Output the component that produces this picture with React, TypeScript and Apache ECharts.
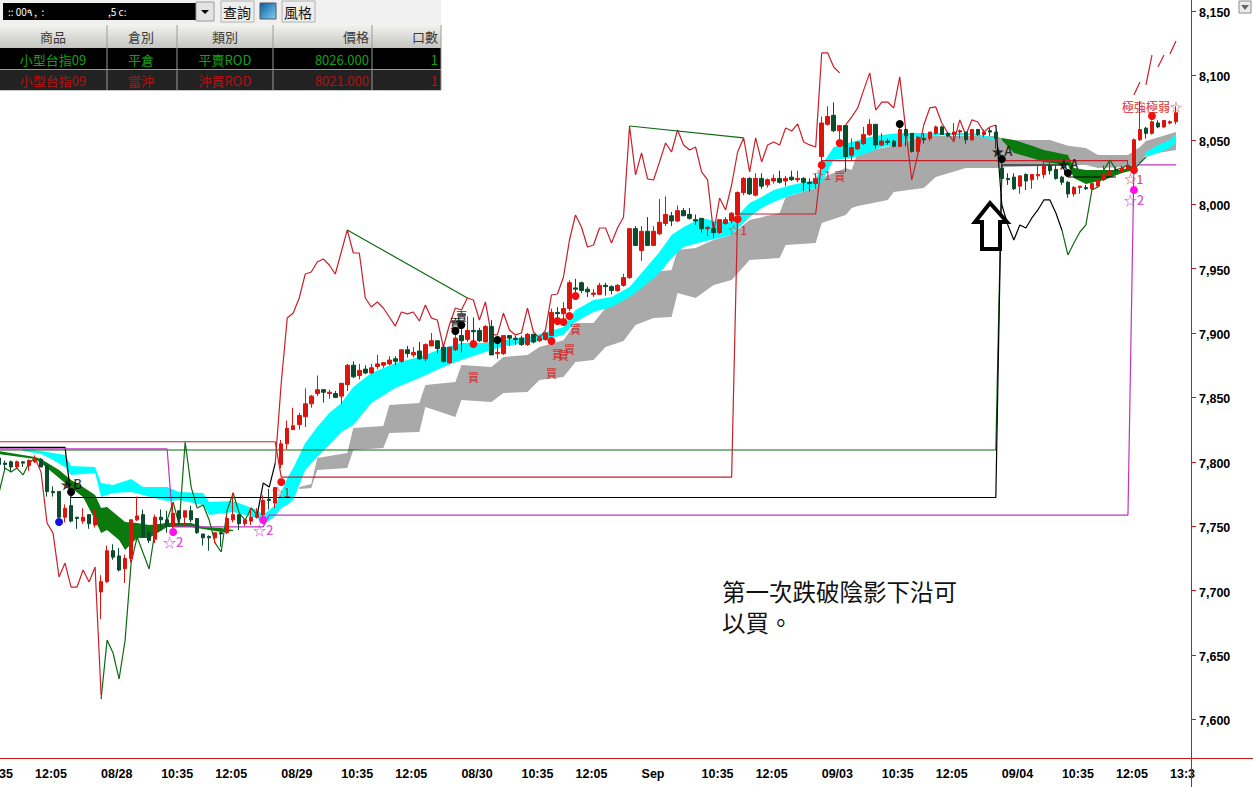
import React, { useEffect, useRef } from "react";
import * as echarts from "echarts";

const CJK = '"Noto Sans CJK TC", "Liberation Sans", sans-serif';
const AXIS_FONT = '"Liberation Sans", Arial, sans-serif';

const BAR_COUNT = 199;
const yTicks = [7600, 7650, 7700, 7750, 7800, 7850, 7900, 7950, 8000, 8050, 8100, 8150];
const timeLabels: [number, string][] = [
  [0, "35"], [6, "12:05"], [27, "10:35"], [36, "12:05"], [57, "10:35"], [66, "12:05"], [87, "10:35"], [96, "12:05"],
  [117, "10:35"], [126, "12:05"], [147, "10:35"], [156, "12:05"], [177, "10:35"], [186, "12:05"], [195, "13:3"],
];
const dayLabels: [number, string][] = [[17, "08/28"], [47, "08/29"], [77, "08/30"], [107, "Sep"], [137, "09/03"], [167, "09/04"]];

// open, close, low, high
const candles: number[][] = [
  [7803,7798,7794,7804],[7799,7798,7794,7801],[7800,7796,7792,7801],[7796,7800,7795,7801],[7800,7799,7796,7800],[7797,7801,7793,7802],
  [7800,7802,7799,7805],[7802,7796,7796,7803],[7797,7777,7773,7799],[7777,7776,7773,7781],[7777,7757,7752,7777],[7757,7764,7753,7767],
  [7766,7754,7753,7773],[7757,7756,7748,7757],[7754,7757,7752,7764],[7759,7752,7748,7759],[7751,7757,7749,7763],[7699,7707,7678,7712],
  [7707,7731,7706,7735],[7731,7726,7724,7736],[7727,7716,7715,7733],[7717,7725,7706,7728],[7725,7755,7722,7755],[7755,7758,7754,7773],
  [7759,7742,7741,7763],[7745,7739,7737,7747],[7740,7757,7737,7759],[7757,7755,7748,7763],[7755,7750,7745,7762],[7750,7760,7748,7768],
  [7762,7756,7751,7762],[7757,7762,7751,7762],[7762,7755,7753,7766],[7756,7745,7744,7756],[7744,7741,7735,7744],[7742,7741,7731,7743],
  [7741,7745,7737,7745],[7745,7744,7734,7746],[7745,7756,7744,7759],[7755,7759,7753,7776],[7759,7752,7747,7759],[7752,7755,7750,7755],
  [7754,7757,7751,7764],[7757,7759,7756,7764],[7759,7770,7752,7774],[7771,7770,7763,7779],[7768,7780,7764,7780],[7798,7814,7795,7817],
  [7814,7826,7810,7832],[7825,7828,7825,7842],[7829,7836,7825,7838],[7835,7845,7827,7857],[7845,7851,7842,7852],[7853,7856,7851,7867],
  [7856,7854,7846,7856],[7853,7854,7849,7856],[7853,7850,7850,7855],[7851,7861,7845,7861],[7860,7875,7855,7876],[7875,7866,7865,7878],
  [7867,7871,7864,7876],[7872,7869,7868,7875],[7869,7873,7868,7876],[7874,7876,7872,7883],[7875,7877,7873,7877],[7876,7879,7875,7882],
  [7880,7878,7875,7882],[7878,7887,7877,7887],[7887,7884,7881,7890],[7883,7885,7881,7889],[7886,7880,7879,7893],[7880,7891,7878,7892],
  [7890,7894,7890,7900],[7894,7888,7884,7894],[7889,7878,7877,7891],[7877,7889,7876,7889],[7887,7896,7886,7901],[7898,7894,7885,7906],
  [7895,7902,7893,7913],[7902,7901,7892,7912],[7902,7894,7893,7904],[7893,7905,7893,7906],[7905,7883,7883,7910],[7884,7885,7880,7895],
  [7884,7898,7883,7898],[7898,7896,7890,7898],[7896,7895,7891,7898],[7896,7891,7890,7898],[7891,7899,7890,7900],[7899,7893,7892,7899],
  [7894,7896,7893,7898],[7895,7900,7894,7901],[7898,7916,7898,7919],[7916,7915,7911,7920],[7915,7919,7908,7924],[7919,7939,7917,7941],
  [7935,7934,7931,7942],[7939,7933,7931,7940],[7934,7932,7928,7936],[7930,7931,7928,7934],[7930,7937,7930,7939],[7937,7936,7929,7939],
  [7936,7933,7930,7937],[7933,7937,7932,7938],[7937,7943,7936,7946],[7943,7981,7942,7981],[7981,7968,7968,7983],[7964,7979,7956,7983],
  [7979,7968,7968,7990],[7968,7979,7968,7983],[7977,7986,7976,8004],[7985,7992,7983,8006],[7991,7987,7983,7994],[7987,7995,7986,7999],
  [7995,7991,7991,7997],[7992,7989,7988,7997],[7988,7987,7984,7992],[7989,7981,7978,7989],[7981,7982,7975,7983],[7981,7978,7974,7986],
  [7978,7988,7977,7988],[7985,7988,7984,7990],[7987,7993,7985,7994],[7992,8009,7990,8010],[8009,8020,8007,8021],[8020,8008,8007,8021],
  [8007,8020,8006,8024],[8020,8014,8012,8024],[8015,8019,8013,8020],[8018,8020,8016,8023],[8020,8017,8016,8026],[8018,8020,8014,8022],
  [8021,8019,8018,8026],[8019,8020,8017,8026],[8020,8017,8010,8021],[8017,8016,8010,8020],[8016,8020,8012,8024],[8037,8063,8031,8068],
  [8062,8068,8061,8076],[8069,8057,8056,8079],[8057,8061,8049,8061],[8061,8037,8025,8061],[8038,8044,8034,8051],[8043,8048,8042,8049],
  [8047,8054,8046,8060],[8054,8062,8053,8066],[8062,8046,8043,8062],[8046,8049,8045,8055],[8049,8048,8046,8051],[8049,8045,8044,8050],
  [8045,8058,8044,8060],[8058,8053,8045,8059],[8055,8041,8040,8055],[8041,8052,8040,8053],[8051,8050,8047,8055],[8051,8056,8049,8056],
  [8055,8060,8054,8061],[8060,8054,8054,8061],[8055,8053,8052,8056],[8054,8056,8050,8063],[8056,8057,8051,8058],[8056,8050,8047,8056],
  [8050,8058,8049,8058],[8058,8054,8053,8058],[8054,8056,8052,8058],[8057,8056,8053,8059],[8056,8051,8043,8056],[8028,8020,8008,8036],
  [8020,8019,8015,8024],[8021,8012,8011,8024],[8014,8022,8008,8022],[8023,8018,8011,8024],[8019,8023,8012,8023],[8022,8023,8019,8030],
  [8023,8030,8020,8036],[8030,8026,8023,8032],[8027,8020,8019,8030],[8021,8017,8015,8022],[8017,8008,8005,8018],[8008,8013,8006,8014],
  [8013,8014,8008,8014],[8013,8012,8011,8015],[8012,8016,8011,8016],[8014,8019,8014,8020],[8019,8023,8018,8030],[8023,8026,8022,8034],
  [8027,8026,8024,8029],[8025,8028,8024,8030],[8027,8030,8027,8034],[8028,8050,8027,8051],[8050,8058,8049,8080],[8059,8055,8051,8060],
  [8055,8064,8054,8065],[8063,8060,8059,8065],[8060,8065,8059,8065],[8063,8064,8062,8065],[8064,8071,8062,8076],
];

// bands: [bar, top, bottom]
const cyanBandA: number[][] = [
  [4,7809.9,7808.4],[7,7808.4,7806],[9,7806.8,7801.4],[11,7805.3,7796],[12,7796.7,7789.8],[16,7796,7791.3],[17,7783.5,7772.7],[19,7782,7775.8],
  [22,7786.7,7776.6],[24,7780.4,7774.2],[28,7780.4,7769.6],[30,7776.6,7770.4],[34,7775.8,7766.5],[35,7768.8,7758.7],[39,7769.6,7761],[43,7762.6,7756.4],
  [44,7758.7,7750.9],[46,7766.5,7758],[47,7776.6,7764.1],[48,7787.4,7766.5],[49,7795.2,7770.4],[51,7814.6,7793.6],[53,7827,7803.7],[55,7837.9,7813],
  [57,7845.6,7823.1],[59,7858,7828.6],[62,7868.9,7845.6],[66,7876.7,7857.4],[70,7881.4,7865],[74,7888.4,7873.6],[77,7892.2,7879],[81,7892.2,7885.2],
  [84,7894.4,7889.9],[89,7897.7,7893],[94,7904.7,7898.5],[96,7917.9,7908.6],[99,7925.6,7916.3],[102,7928,7920.2],[105,7935.7,7928],[107,7946.6,7935],
  [110,7962.9,7946.6],[112,7976.1,7958.2],[114,7982.3,7966.8],[117,7989.3,7970.7],[120,7986.2,7973.8],[122,7986.2,7976.1],[125,8000.9,7990],[127,8005.6,7997],
  [129,8011,8001.7],[132,8014.9,8007.1],[136,8018.8,8012.6],[137,8030.4,8017.2],[139,8044.4,8034.3],[142,8048.3,8035.9],[145,8052.2,8040.5],[147,8053.7,8044.4],
  [150,8055.3,8046],[152,8055.3,8051.4],[157,8055.3,8053.7],[162,8055.3,8053.7],[166,8051.4,8049.9],
];
const cyanBandB: number[][] = [[191,8040.5,8036.6],[193,8046,8039.8],[195,8049.9,8043.6],[196,8054.5,8047.5]];
const grayBand: number[][] = [
  [50,7780.4,7778.9],[52,7782.8,7779.7],[53,7802.9,7793.6],[58,7806.8,7795.2],[59,7826.2,7809.2],[64,7827.8,7810.8],[65,7844.1,7822.4],[70,7845.6,7823.1],
  [71,7859.6,7842.5],[76,7861.9,7834.8],[77,7875.2,7848],[82,7873.6,7846.4],[84,7881.4,7853.4],[88,7882.9,7854.2],[90,7889.1,7863.5],[94,7894.4,7865.8],
  [96,7907.8,7877.5],[99,7907.8,7879],[101,7919.4,7889.1],[104,7925.6,7893.8],[106,7937.3,7906.2],[109,7947.4,7911.6],[112,7948.9,7912.4],[113,7964.4,7931.1],
  [116,7966,7927.2],[119,7972.2,7937.3],[122,7976.1,7941.1],[125,7987.7,7956.7],[130,7993.2,7958.2],[131,8005.6,7968.3],[136,8012.6,7969.9],[137,8020.3,7985.4],
  [141,8028.1,7991.6],[142,8026.6,7997],[143,8040.5,7998.5],[148,8044.4,8003.3],[149,8046,8009.5],[154,8053,8012.6],[156,8053,8021.1],[161,8053,8028.1],
  [166,8053,8028.1],[168,8049.9,8028.9],[175,8049.9,8029.7],[178,8045.3,8030.4],[181,8043.6,8030.4],[183,8038.2,8028.1],[188,8038.2,8028.9],[190,8044.4,8032],
  [191,8049.1,8038.2],[196,8056,8042.1],
];
const greenBandA: number[][] = [
  [0,7808.4,7806],[6,7803.7,7802.2],[7,7802.2,7799.1],[10,7793.6,7787.4],[12,7785.9,7779.7],[14,7780.4,7772.7],[16,7774.2,7754.8],[17,7764.1,7744.7],
  [18,7764.9,7747],[20,7757.2,7739.3],[21,7753.3,7731.5],[23,7752.5,7740.9],[25,7750.9,7740.9],[28,7752.5,7749.4],[32,7752.5,7749.4],[34,7749.4,7747.8],
  [37,7748.6,7745.5],[39,7747,7746.3],
];
const greenBandB: number[][] = [
  [167,8051.4,8049.9],[169,8049.9,8039.8],[172,8045.3,8035.9],[174,8042.1,8032.8],[178,8038.2,8030.4],[179,8028.1,8020.3],[181,8026.6,8015.7],[184,8026.6,8018.8],
  [187,8026.6,8024.3],[189,8030.4,8026.6],
];

// stepped stop levels: [bar, price]
const redStep: number[][] = [[0,7815.6],[46,7815.6],[47,7788.2],[122,7788.2],[123,7992.4],[136,7992.4],[137,8033.8],[188,8033.8]];
const greenStep: number[][] = [[0,7809.2],[166,7809.2],[167,8028]];
const blackStep: number[][] = [[0,7811.2],[11,7811.2],[12,7772.3],[166,7772.3],[167,8030.4],[177,8030.4],[178,8021.1],[186,8021.1]];
const magentaStep: number[][] = [[0,7810],[28,7810],[29,7749.5],[44,7749.5],[45,7758.7],[188,7758.7],[189,8030.5],[196,8030.5]];

// lagging close line, one array per colour run: first bar, then its values
const lagGreen1 = [7776,7795.2,7792.1,7795.2,7789.8,7799.1,7803];
const lagRed1 = [7803,7792,7752.5,7744.7,7710.6,7721.4,7702.8,7702.8,7716,7706.7,7718.3,7619];
const lagGreen2 = [7615.8,7661.6,7651.6,7631.4,7661.6,7721.4,7741.6,7729.2,7716.8,7747,7747,7754.8,7768.8,7750.9,7815.4,7780.4,7764.1,7766.5,7754.8,7736.9,7730,7762.6,7775.8,7760.2,7754.8,7764.1,7758.7];
const lagBlack1 = [7758.7,7783.5,7780.4,7799];
const lagRed2 = [
  7799,7861.2,7911.6,7915.5,7927.2,7945.8,7947.4,7955.1,7957.5,7952.8,7945.8,7962.9,7980,7962.1,7962.1,7927.2,7920.2,7924.1,7919.4,7912.4,7905.4,
  7916.3,7914.8,7916.3,7909.3,7921.7,7911.6,7910.1,7889.1,7906.2,7919.4,7917.9,7927.2,7925.6,7910.1,7924.1,7898.5,7898.5,7915.5,7902.3,7898.5,7900,
  7919.4,7900.8,7896.1,7902.3,7929.5,7930.3,7943.5,7972.2,7991.6,7982.3,7966.8,7968.3,7981.5,7981.5,7969.9,7981.5,7990,8060.7,8022.7,8039.8,8019.6,
  8018.8,8032.8,8047.5,8040.5,8057.6,8046,8042.1,8044.4,8025,8018.8,7977.6,8004.8,7995.5,8014.9,8040.5,8051.4,8025,8051.4,8032.8,8046,8048.3,8046,
  8059.2,8056.8,8062.3,8048.3,8046,8044.4,8117.4,8117.4,8106.5,8101.9,
];
const lagRed3 = [8061.5,8067.7,8074.7,8088.7,8101.9,8073.1,8079.3,8079.3,8074.7,8098.8,8057.6,8018.8,8038.2,8061.5,8074.7,8075.5,8063,8055.3,8048.3,8065.4,8053.7,8065.4,8063.8,8056.1,8059.9,8061.5];
const lagBlack2 = [8061.5,7999.4,7983.9,7972.2,7983.9,7981.5,7989.3,7995.5,8003.3,8003.3,7993.2,7980];
const lagGreen3 = [7980,7960.6,7969.9,7978.4,7983.9,8011,8013.4,8026.6,8034.3,8026.6,8028.1,8030.4,8026.6,8032,8036.6];
const lagDash1 = [8084.8,8094.9];
const lagDash2 = [8092.6,8115.8];
const lagDash3 = [8106.5,8115.8];
const lagDash4 = [8116.6,8126.7];
const lagLink1: number[][] = [[58,7980],[78,7927.2]];
const lagLink2: number[][] = [[105,8060.7],[124,8051.4]];

// signal dots: [bar, price]
const redDots: number[][] = [[47,7784.3],[79,7891.5],[92,7893.8],[93,7909.3],[94,7908.6],[95,7913.2],[96,7928.7],[123,7988.5],[137,8030.4],[140,8047.5],[189,8026.6],[192,8068.5]];
const blueDots: number[][] = [[10,7753.3]];
const magentaDots: number[][] = [[29,7745.5],[44,7754.8],[189,8011]];
const blackDots: number[][] = [[12,7776.6],[76,7901.6],[77,7906.2],[83,7894.6],[150,8062.3],[167,8035],[178,8024.2]];

// text marks: [bar, price, text]
const buyMarks: (number | string)[][] = [[79,7865.8,"買"],[92,7868.9,"買"],[96,7903.1,"買"],[95,7887.6,"買"],[93,7883.7,"買"],[94,7882.9,"買"],[140,8021.9,"買"]];
const sellMarks: (number | string)[][] = [[77,7913.2,"賣"],[76,7907.8,"賣"]];
const star1Marks: (number | string)[][] = [[47,7777.3,"☆1"],[123,7980.7,"☆1"],[137,8022.7,"☆1"],[189,8019.6,"☆1"],[192,8075.5,"極強極弱☆"]];
const star2Marks: (number | string)[][] = [[29,7738.5,"☆2"],[44,7747.8,"☆2"],[189,8003.3,"☆2"]];
const blackStarMarks: (number | string)[][] = [[12,7783.5,"★B"],[167,8041.3,"★A"],[178,8031.2,"★A"]];

const tableHead = ["商品", "倉別", "類別", "價格", "口數"];
const tableRow1 = ["小型台指09", "平倉", "平賣ROD", "8026.000", "1"];
const tableRow2 = ["小型台指09", "當沖", "沖買ROD", "8021.000", "1"];
const noteLines = ["第一次跌破陰影下沿可", "以買。"];

const RED = "#dc140c";
const DARK = "#0a4c2c";
const LINE_RED = "#c8202a";
const LINE_GREEN = "#0d6a12";
const MAGENTA = "#c034c4";

function band(name: string, rows: number[][], color: string, z: number) {
  return {
    name, type: "custom", data: rows, z, silent: true, encode: { x: 0, y: [1, 2] },
    renderItem: (params: any, api: any) => {
      if (params.dataIndex !== 0) return null;
      const top = rows.map((r) => api.coord([r[0], r[1]]));
      const bottom = rows.map((r) => api.coord([r[0], r[2]])).reverse();
      return { type: "polygon", shape: { points: top.concat(bottom) }, style: { fill: color } };
    },
  };
}
function line(name: string, data: number[][], color: string) {
  return { name, type: "line", data, z: 2, symbol: "none", silent: true, lineStyle: { color, width: 1.2 } };
}
function run(name: string, first: number, values: number[], color: string) {
  return line(name, values.map((v, i) => [first + i, v]), color);
}
function dots(name: string, data: number[][], color: string) {
  return { name, type: "scatter", data, z: 5, symbolSize: 8, silent: true, itemStyle: { color, opacity: 1 } };
}
function marks(name: string, data: (number | string)[][], color: string, size: number, weight: string | number = 500) {
  return {
    name, type: "scatter", data, z: 6, symbolSize: 1, silent: true, itemStyle: { color: "transparent" },
    label: { show: true, position: "inside", formatter: (p: any) => p.value[2], color, fontSize: size, fontWeight: weight, fontFamily: CJK, lineHeight: size },
  };
}

function tableGraphics() {
  const els: any[] = [];
  const rect = (x: number, y: number, w: number, h: number, fill: any, stroke?: string) =>
    els.push({ type: "rect", z: 20, shape: { x, y, width: w, height: h }, style: { fill, stroke: stroke || "none", lineWidth: stroke ? 1 : 0 } });
  const txt = (x: number, y: number, text: string, fill: string, align: string, size = 13) =>
    els.push({ type: "text", z: 21, x, y, style: { text, fill, font: `${size}px ${CJK}`, align, verticalAlign: "middle" } });
  rect(0, 0, 441, 24, "#f0f0f0");
  rect(3, 3, 193, 17, "#000000");
  rect(196, 2, 18, 19, "#e4e4e4", "#9a9a9a");
  els.push({ type: "polygon", z: 21, shape: { points: [[201, 10], [209, 10], [205, 14]] }, style: { fill: "#000" } });
  txt(8, 11, ":: 00٩ ,  :", "#ffffff", "left", 10);
  txt(108, 11, ",5 c:", "#ffffff", "left", 10);
  rect(221, 1, 33, 21, "#eeeeee", "#b0b0b0");
  txt(237, 12, "查詢", "#111111", "center", 14);
  rect(260, 3, 16, 16, { type: "linear", x: 0, y: 0, x2: 1, y2: 1, colorStops: [{ offset: 0, color: "#0a5aa0" }, { offset: 1, color: "#7fd4f4" }] }, "#555555");
  rect(282, 1, 33, 21, "#eeeeee", "#b0b0b0");
  txt(298, 12, "風格", "#111111", "center", 14);
  rect(0, 24, 441, 24, { type: "linear", x: 0, y: 0, x2: 0, y2: 1, colorStops: [{ offset: 0, color: "#f4f4f2" }, { offset: 1, color: "#c4c4c0" }] });
  rect(0, 48, 441, 21, "#000000");
  rect(0, 70, 441, 20, "#222222");
  const cols = [53, 141, 225, 369, 438];
  const aligns = ["center", "center", "center", "right", "right"];
  tableHead.forEach((t, i) => txt(cols[i], 36, t, "#3a3a3a", aligns[i]));
  tableRow1.forEach((t, i) => txt(cols[i], 59, t, "#14a014", aligns[i]));
  tableRow2.forEach((t, i) => txt(cols[i], 80, t, "#b41212", aligns[i]));
  [107, 177, 273, 372, 441].forEach((x) =>
    els.push({ type: "line", z: 22, shape: { x1: x, y1: 25, x2: x, y2: 90 }, style: { stroke: "#9a9a9a", lineWidth: 1 } })
  );
  els.push({ type: "line", z: 22, shape: { x1: 0, y1: 69.5, x2: 441, y2: 69.5 }, style: { stroke: "#9a9a9a", lineWidth: 1 } });
  els.push({ type: "line", z: 22, shape: { x1: 0, y1: 90.5, x2: 441, y2: 90.5 }, style: { stroke: "#c8c8c8", lineWidth: 1 } });
  return els;
}

export default function App() {
  const ref = useRef<HTMLDivElement>(null);
  useEffect(() => {
    const chart = echarts.init(ref.current!, undefined, { renderer: "svg" });
    const labelMap = new Map<number, string>([...timeLabels, ...dayLabels]);
    const cats = Array.from({ length: BAR_COUNT }, (_, i) => labelMap.get(i) ?? String(i));
    const dayIdx = new Set(dayLabels.map((d) => d[0]));
    const isLabelled = (i: number) => labelMap.has(i);
    chart.setOption({
      animation: false,
      backgroundColor: "#ffffff",
      grid: { left: -4, top: 0, width: 1195, height: 758, outerBoundsMode: "none" },
      xAxis: [
        {
          type: "category", data: cats, boundaryGap: true, position: "bottom",
          axisLine: { lineStyle: { color: "#c81818", width: 1 } },
          axisTick: { alignWithLabel: true, interval: (i: number) => isLabelled(i), length: 4, lineStyle: { color: "#c81818" } },
          axisLabel: { interval: (i: number) => isLabelled(i), align: "left", margin: 9, color: "#000", fontFamily: AXIS_FONT, fontWeight: "bold", fontSize: 12.5 },
          splitLine: { show: false },
        },
        {
          type: "category", data: cats, boundaryGap: true, position: "bottom",
          axisLine: { show: false },
          axisTick: { alignWithLabel: true, interval: (i: number) => dayIdx.has(i), length: 9, lineStyle: { color: "#c81818" } },
          axisLabel: { show: false }, splitLine: { show: false },
        },
      ],
      yAxis: {
        type: "value", position: "right", min: 7570.1, max: 8158.5, scale: true,
        axisLine: { show: true, lineStyle: { color: "#c81818", width: 1 } },
        axisTick: { show: true, length: 5, customValues: yTicks, lineStyle: { color: "#c81818" } },
        axisLabel: {
          customValues: yTicks, margin: 8, color: "#000", fontFamily: AXIS_FONT, fontWeight: "bold", fontSize: 12.5,
          formatter: (v: number) => `{t|${v.toLocaleString("en-US")}}`,
          rich: { t: { color: "#000", fontFamily: AXIS_FONT, fontWeight: "bold", fontSize: 12.5, padding: [4, 0, 0, 0] } },
        },
        splitLine: { show: false },
      },
      graphic: [
        ...tableGraphics(),
        { type: "line", z: 10, shape: { x1: 1191.5, y1: 758, x2: 1191.5, y2: 787 }, style: { stroke: "#c81818", lineWidth: 1 } },
        { type: "line", z: 10, shape: { x1: 1191, y1: 758.5, x2: 1253, y2: 758.5 }, style: { stroke: "#c81818", lineWidth: 1 } },
        { type: "rect", z: 10, shape: { x: 1239, y: 1, width: 12, height: 12 }, style: { fill: "#ececec", stroke: "#8c8c8c", lineWidth: 1 } },
        { type: "polygon", z: 11, shape: { points: [[1241, 5], [1249, 5], [1245, 10]] }, style: { fill: "#666" } },
        { type: "polygon", z: 12, shape: { points: [[990, 203], [1007, 222], [1000, 222], [1000, 249], [982, 249], [982, 222], [975, 222]] }, style: { fill: "#fff", stroke: "#000", lineWidth: 4 } },
        { type: "text", z: 12, x: 722, y: 591, style: { text: noteLines[0], fill: "#111", font: `23.5px ${CJK}`, verticalAlign: "middle" } },
        { type: "text", z: 12, x: 722, y: 622, style: { text: noteLines[1], fill: "#111", font: `23.5px ${CJK}`, verticalAlign: "middle" } },
      ],
      series: [
        band("gray", grayBand, "#a9a9a9", 1),
        band("cyanA", cyanBandA, "#00ffff", 1),
        band("cyanB", cyanBandB, "#00ffff", 1),
        band("greenA", greenBandA, "#0a7a0e", 1),
        band("greenB", greenBandB, "#0a7a0e", 1),
        line("redStep", redStep, LINE_RED),
        line("greenStep", greenStep, LINE_GREEN),
        line("blackStep", blackStep, "#000000"),
        line("magentaStep", magentaStep, MAGENTA),
        run("lagGreen1", 0, lagGreen1, LINE_GREEN),
        run("lagRed1", 6, lagRed1, LINE_RED),
        run("lagGreen2", 17, lagGreen2, LINE_GREEN),
        run("lagBlack1", 43, lagBlack1, "#000000"),
        run("lagRed2", 46, lagRed2, LINE_RED),
        run("lagRed3", 141, lagRed3, LINE_RED),
        run("lagBlack2", 166, lagBlack2, "#000000"),
        run("lagGreen3", 177, lagGreen3, LINE_GREEN),
        run("lagDash1", 189, lagDash1, LINE_RED),
        run("lagDash2", 191, lagDash2, LINE_RED),
        run("lagDash3", 193, lagDash3, LINE_RED),
        run("lagDash4", 195, lagDash4, LINE_RED),
        line("lagLink1", lagLink1, LINE_GREEN),
        line("lagLink2", lagLink2, LINE_GREEN),
        {
          name: "bars", type: "candlestick", data: candles, z: 4, silent: true, barWidth: 4,
          itemStyle: { color: RED, color0: DARK, borderColor: RED, borderColor0: DARK, borderWidth: 1 },
        },
        dots("redDots", redDots, "#f01010"),
        dots("blueDots", blueDots, "#1010e0"),
        dots("magentaDots", magentaDots, "#ff10e8"),
        dots("blackDots", blackDots, "#000000"),
        marks("buy", buyMarks, "#d81c1c", 11),
        marks("sell", sellMarks, "#000000", 11, "bold"),
        marks("star1", star1Marks, "#d81c1c", 12),
        marks("star2", star2Marks, "#d02cd0", 13),
        marks("blackStars", blackStarMarks, "#000000", 13),
      ],
    });
    return () => chart.dispose();
  }, []);
  return <div ref={ref} style={{ position: "absolute", left: 0, top: 0, width: 1253, height: 787, overflow: "hidden" }} />;
}
